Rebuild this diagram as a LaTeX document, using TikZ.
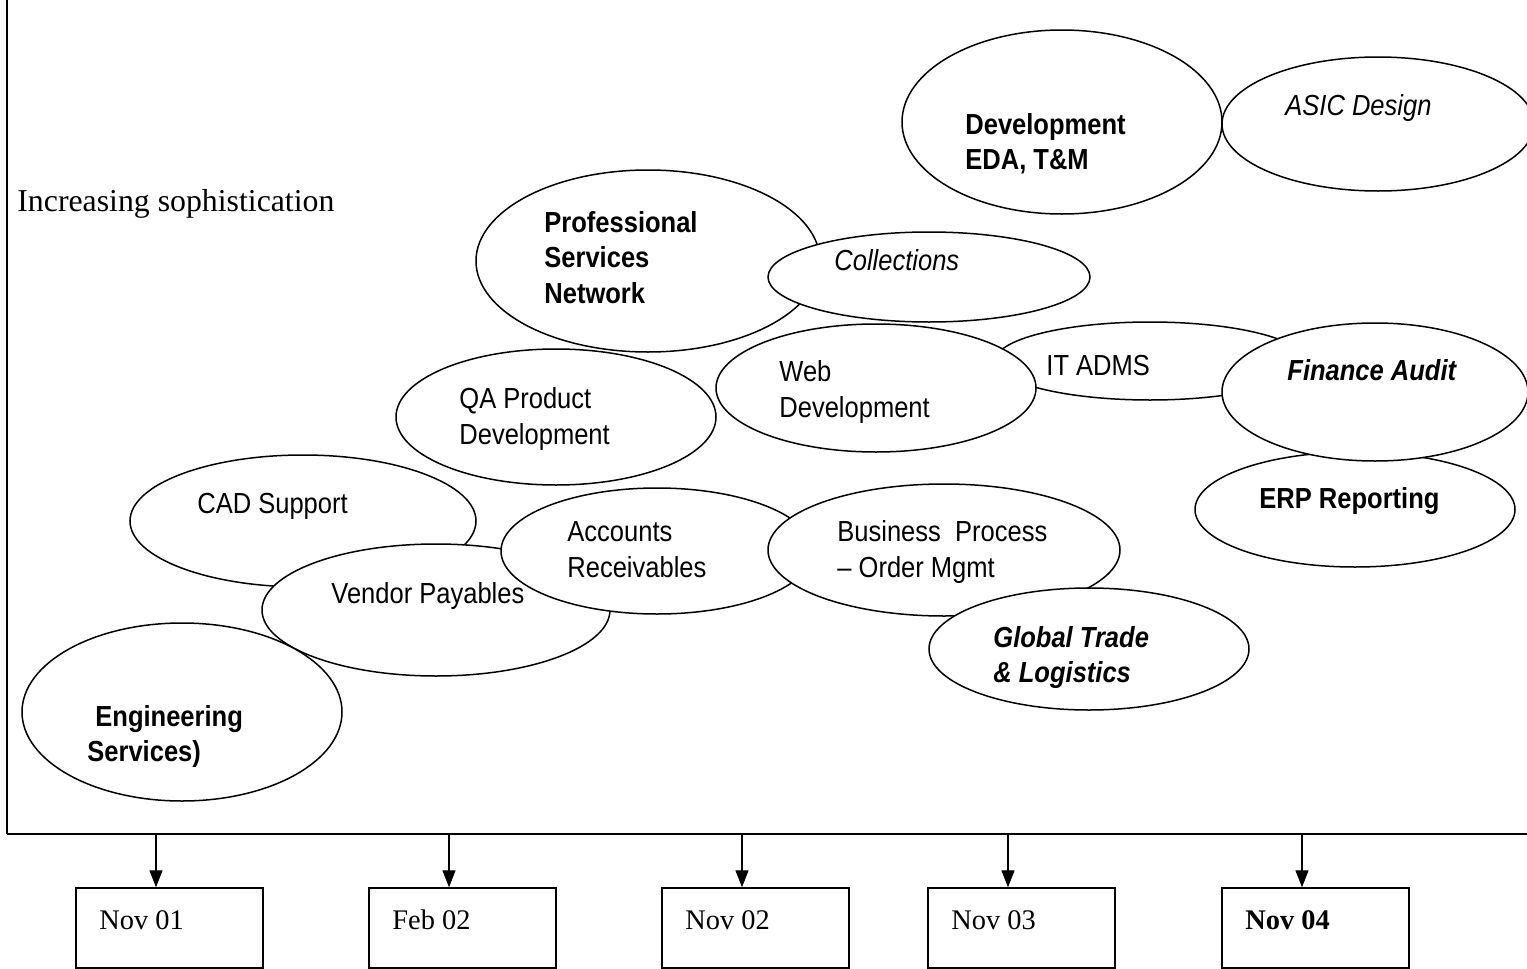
\documentclass[tikz,border=0pt]{standalone}
\usepackage{fontspec}
\setmainfont{Liberation Serif}
\newfontfamily\arialn[FakeStretch=0.88]{Liberation Sans}
\usetikzlibrary{shapes.geometric,arrows.meta}
\tikzset{
  ell/.style={ellipse, draw, fill=white, line width=0.75pt, inner sep=0pt},
  lbl/.style={anchor=base west, inner sep=0pt, align=left,
              font=\arialn\fontsize{14.5}{17.75}\selectfont},
  datebox/.style={draw, line width=0.7pt, minimum width=93.5pt, minimum height=40pt, inner sep=0pt},
  datetxt/.style={anchor=base west, inner sep=0pt, font=\fontsize{14.2}{17}\selectfont},
  arr/.style={line width=0.55pt, -{Triangle[length=8.5pt,width=6.5pt]}},
  axis/.style={line width=1.1pt}
}
\begin{document}
\begin{tikzpicture}[x=0.5pt,y=-0.5pt]
\useasboundingbox (0,0) rectangle (1527,969);
% axes
\coordinate (top) at (7,0);
\coordinate (origin) at (7,834);
\coordinate (xend) at (1527,834);
\draw[line width=1pt] (top) -- (origin);
\draw[axis] (origin) -- (xend);
\node[anchor=base west, inner sep=0pt, font=\fontsize{15.9}{19}\selectfont] (inc) at (17,211) {Increasing sophistication};

% ellipses (drawn back to front)
\node[ell, minimum width=173pt, minimum height=66pt] (cad) at (303,521) {};
\node[ell, minimum width=174pt, minimum height=66pt] (vendor) at (436,610) {};
\node[ell, minimum width=160pt, minimum height=89pt] (eng) at (182,712) {};
\node[ell, minimum width=156pt, minimum height=63pt] (accts) at (657,551) {};
\node[ell, minimum width=176pt, minimum height=66pt] (bpo) at (944,550) {};
\node[ell, minimum width=160pt, minimum height=61pt] (gtl) at (1089,649) {};
\node[ell, minimum width=160pt, minimum height=57.5pt] (erp) at (1355,509.5) {};
\node[ell, minimum width=155pt, minimum height=39pt] (itadms) at (1150,361) {};
\node[ell, minimum width=153pt, minimum height=69pt] (fin) at (1375,392) {};
\node[ell, minimum width=160pt, minimum height=64pt] (web) at (876,388) {};
\node[ell, minimum width=160pt, minimum height=68pt] (qa) at (556,417) {};
\node[ell, minimum width=172pt, minimum height=91pt] (psn) at (648,261) {};
\node[ell, minimum width=161pt, minimum height=45pt] (coll) at (929,277) {};
\node[ell, minimum width=160pt, minimum height=92pt] (dev) at (1062,122) {};
\node[ell, minimum width=156pt, minimum height=67pt] (asic) at (1378,124) {};

% ellipse texts (multi-line nodes are anchored at the baseline of their last line)
\node[lbl] (tcad) at (197,513) {CAD Support};
\node[lbl] (tvendor) at (331,603) {Vendor Payables};
\node[lbl, font=\arialn\bfseries\fontsize{14.5}{17.5}\selectfont] (teng) at (87,761) {\hspace*{4pt}Engineering\\Services)};
\node[lbl] (taccts) at (567,577) {Accounts\\Receivables};
\node[lbl] (tbpo) at (837,577) {Business\ \ Process\\– Order Mgmt};
\node[lbl, font=\arialn\bfseries\itshape\fontsize{14.5}{17.5}\selectfont] (tgtl) at (993,682) {Global Trade\\\& Logistics};
\node[lbl, font=\arialn\bfseries\fontsize{14.5}{17.5}\selectfont] (terp) at (1259,508) {ERP Reporting};
\node[lbl] (titadms) at (1046,375) {IT ADMS};
\node[lbl, font=\arialn\bfseries\itshape\fontsize{14.5}{17.5}\selectfont] (tfin) at (1287,380) {Finance Audit};
\node[lbl] (tweb) at (779,417) {Web\\Development};
\node[lbl] (tqa) at (459,444) {QA Product\\Development};
\node[lbl, font=\arialn\bfseries\fontsize{14.5}{17.75}\selectfont] (tpsn) at (544,303) {Professional\\Services\\Network};
\node[lbl, font=\arialn\itshape\fontsize{14.5}{17.5}\selectfont] (tcoll) at (834,270) {Collections};
\node[lbl, font=\arialn\bfseries\fontsize{14.5}{17.5}\selectfont] (tdev) at (965,169) {Development\\EDA, T\&M};
\node[lbl, font=\arialn\itshape\fontsize{14.5}{17.5}\selectfont] (tasic) at (1285,115) {ASIC Design};

% date boxes
\node[datebox] (b1) at (169.5,928) {};
\node[datebox] (b2) at (462.5,928) {};
\node[datebox] (b3) at (755.5,928) {};
\node[datebox] (b4) at (1021.5,928) {};
\node[datebox] (b5) at (1315.5,928) {};
\node[datetxt] (d1) at (99,929) {Nov 01};
\node[datetxt] (d2) at (392,929) {Feb 02};
\node[datetxt] (d3) at (685,929) {Nov 02};
\node[datetxt] (d4) at (951,929) {Nov 03};
\node[datetxt, font=\bfseries\fontsize{14.2}{17}\selectfont] (d5) at (1245,929) {Nov 04};

% arrows
\coordinate (a1) at (156,835);
\coordinate (a2) at (449,835);
\coordinate (a3) at (742,835);
\coordinate (a4) at (1008,835);
\coordinate (a5) at (1302,835);
\draw[arr] (a1) -- (a1 |- b1.north);
\draw[arr] (a2) -- (a2 |- b2.north);
\draw[arr] (a3) -- (a3 |- b3.north);
\draw[arr] (a4) -- (a4 |- b4.north);
\draw[arr] (a5) -- (a5 |- b5.north);
\end{tikzpicture}
\end{document}
